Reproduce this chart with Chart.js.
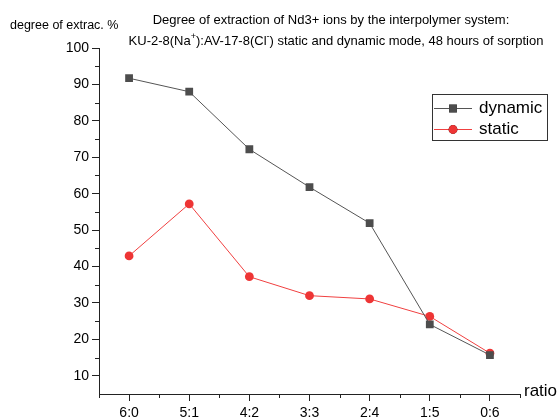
<!DOCTYPE html>
<html>
<head>
<meta charset="utf-8">
<title>Degree of extraction of Nd3+</title>
<script src="https://cdn.jsdelivr.net/npm/chart.js@4.4.1/dist/chart.umd.min.js"></script>
<style>
  html, body { margin: 0; padding: 0; background: #fff; }
  canvas { display: block; }
</style>
</head>
<body>
<canvas id="sorption-chart" width="560" height="419"></canvas>
<script>
// Sorption data: KU-2-8 : AV-17-8 ratios, degree of extraction in %
const ratios = ['6:0', '5:1', '4:2', '3:3', '2:4', '1:5', '0:6'];
const dynamicValues = [91.7, 88.0, 72.2, 61.8, 51.9, 24.1, 15.7];
const staticValues = [42.9, 57.2, 37.2, 32.0, 31.1, 26.3, 16.2];
const yTicks = [10, 20, 30, 40, 50, 60, 70, 80, 90, 100];
const yMinorTicks = [15, 25, 35, 45, 55, 65, 75, 85, 95];

const FONT = '"Liberation Sans", Arial, sans-serif';
const AXIS_COLOR = '#222';

// draws the text parts: minor ticks, titles, axis names and the legend box
const decorPlugin = {
    id: 'decor',
    afterDraw(chart) {
        const ctx = chart.ctx;
        const area = chart.chartArea;
        const xs = chart.scales.x;
        const ys = chart.scales.y;
        ctx.save();
        ctx.strokeStyle = AXIS_COLOR;
        ctx.lineWidth = 1;

        // minor ticks on x: between categories and at both ends
        ctx.beginPath();
        for (let i = 0; i <= ratios.length; i++) {
            const px = Math.round(xs.getPixelForValue(i - 0.5)) + 0.5;
            ctx.moveTo(px, area.bottom);
            ctx.lineTo(px, area.bottom + 4);
        }
        // minor ticks on y
        yMinorTicks.forEach(v => {
            const py = Math.round(ys.getPixelForValue(v)) + 0.5;
            ctx.moveTo(area.left, py);
            ctx.lineTo(area.left - 4, py);
        });
        ctx.stroke();

        ctx.fillStyle = '#000';
        ctx.textBaseline = 'middle';

        // y axis name
        ctx.font = '12.5px ' + FONT;
        ctx.textAlign = 'left';
        ctx.fillText('degree of extrac. %', 10, 26);

        // x axis name
        ctx.font = '17px ' + FONT;
        ctx.fillText('ratio', 524, 391);

        // two-line title, second line with superscripts
        ctx.font = '13px ' + FONT;
        ctx.textAlign = 'center';
        ctx.fillText('Degree of extraction of Nd3+ ions by the interpolymer system:', 331, 20);
        const parts = [
            { t: 'KU-2-8(Na' }, { t: '+', sup: true },
            { t: '):AV-17-8(Cl' }, { t: '-', sup: true },
            { t: ') static and dynamic mode, 48 hours of sorption' }
        ];
        const fontFor = p => (p.sup ? '9px ' : '13px ') + FONT;
        let total = 0;
        parts.forEach(p => { ctx.font = fontFor(p); total += ctx.measureText(p.t).width; });
        let x = 336 - total / 2;
        ctx.textAlign = 'left';
        parts.forEach(p => {
            ctx.font = fontFor(p);
            ctx.fillText(p.t, x, p.sup ? 37 : 41);
            x += ctx.measureText(p.t).width;
        });

        // legend
        ctx.strokeStyle = '#333';
        ctx.strokeRect(432.5, 94.5, 115, 46);
        const rows = [108, 129];
        chart.data.datasets.forEach((ds, i) => {
            const y = rows[i];
            ctx.strokeStyle = ds.borderColor;
            ctx.lineWidth = 1;
            ctx.beginPath();
            ctx.moveTo(434, y + 0.5);
            ctx.lineTo(472, y + 0.5);
            ctx.stroke();
            Chart.helpers.drawPoint(ctx, {
                pointStyle: ds.pointStyle,
                radius: ds.pointRadius,
                borderWidth: 0,
                rotation: 0
            }, 453, y + 0.5);
            ctx.fillStyle = ds.pointBackgroundColor;
            ctx.fill();
            ctx.fillStyle = '#000';
            ctx.font = '17px ' + FONT;
            ctx.fillText(ds.label, 479, y);
        });
        ctx.restore();
    }
};

document.addEventListener('DOMContentLoaded', function() {
    const ctx = document.getElementById('sorption-chart').getContext('2d');
    new Chart(ctx, {
        type: 'line',
        data: {
            labels: ratios,
            datasets: [{
                label: 'dynamic',
                data: dynamicValues,
                borderColor: '#555555',
                borderWidth: 1,
                pointStyle: 'rect',
                pointRadius: 5.5,
                pointBackgroundColor: '#4d4d4d',
                pointBorderWidth: 0,
                fill: false
            }, {
                label: 'static',
                data: staticValues,
                borderColor: '#f04040',
                borderWidth: 1,
                pointStyle: 'circle',
                pointRadius: 4.4,
                pointBackgroundColor: '#ee3535',
                pointBorderWidth: 0,
                fill: false
            }]
        },
        options: {
            responsive: false,
            animation: false,
            layout: { padding: { top: 48, right: 40, left: 0, bottom: 0 } },
            plugins: {
                legend: { display: false },
                tooltip: { enabled: false }
            },
            scales: {
                x: {
                    type: 'category',
                    offset: true,
                    grid: { drawOnChartArea: false, drawTicks: true, tickLength: 7, color: AXIS_COLOR },
                    border: { color: AXIS_COLOR, width: 1 },
                    ticks: { color: '#000', font: { family: FONT, size: 14 }, padding: 4, maxRotation: 0 },
                    afterFit: s => { s.height = 25; }
                },
                y: {
                    min: 5,
                    max: 100,
                    afterBuildTicks: s => { s.ticks = yTicks.map(v => ({ value: v })); },
                    grid: { drawOnChartArea: false, drawTicks: true, tickLength: 7, color: AXIS_COLOR },
                    border: { color: AXIS_COLOR, width: 1 },
                    ticks: { color: '#000', font: { family: FONT, size: 14 }, padding: 3 },
                    afterFit: s => { s.width = 99; }
                }
            }
        },
        plugins: [decorPlugin]
    });
});
</script>
</body>
</html>
